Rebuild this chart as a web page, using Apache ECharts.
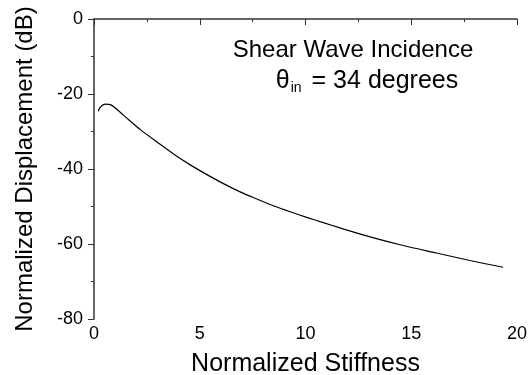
<!DOCTYPE html>
<html>
<head>
<meta charset="utf-8">
<script src="https://cdn.jsdelivr.net/npm/echarts@6/dist/echarts.min.js"></script>
<style>
  html, body { margin: 0; padding: 0; background: #fff; }
  #chart { width: 528px; height: 375px; }
</style>
</head>
<body>
<div id="chart"></div>
<script>
// values
var stiffness = [0.2, 0.3, 0.53, 0.8, 1.4, 2.19, 2.98, 3.76, 4.55, 5.34, 6.12, 6.91, 7.7, 8.48, 9.27, 10.06, 10.84, 11.63, 13.05, 14.62, 16.19, 17.77, 19.34];
var displacement = [-24.6, -23.5, -22.7, -22.9, -25.7, -29.5, -32.8, -36.0, -38.9, -41.5, -43.9, -46.1, -48.0, -49.8, -51.4, -52.9, -54.3, -55.7, -58.1, -60.4, -62.4, -64.4, -66.2];
var titleLine1 = 'Shear Wave Incidence';
var titleLine2 = ['θ', 'in', '= 34 degrees'];

var font = 'Liberation Sans, Arial, sans-serif';
var myChart = echarts.init(document.getElementById('chart'));

var points = stiffness.map(function(x, i) { return [x, displacement[i]]; });

var axisCommon = {
    axisLine: { show: true, lineStyle: { color: '#333', width: 1.5 } },
    axisTick: { show: true, inside: false, length: 6, lineStyle: { color: '#333', width: 1 } },
    minorTick: { show: true, splitNumber: 2, length: 3, lineStyle: { color: '#333', width: 1 } },
    splitLine: { show: false },
    axisLabel: { color: '#000', fontFamily: font, fontSize: 18 },
    nameTextStyle: { color: '#000', fontFamily: font, fontSize: 24 }
};

var option = {
    animation: false,
    backgroundColor: '#fff',
    grid: { left: 94, right: 11, top: 19, bottom: 56, outerBoundsMode: 'none' },
    xAxis: Object.assign({}, axisCommon, {
        type: 'value', min: 0, max: 20, interval: 5,
        name: 'Normalized Stiffness', nameLocation: 'middle', nameGap: 33,
        nameTextStyle: Object.assign({}, axisCommon.nameTextStyle, { fontSize: 25 }),
        axisLabel: Object.assign({}, axisCommon.axisLabel, { margin: 6 })
    }),
    yAxis: Object.assign({}, axisCommon, {
        type: 'value', min: -80, max: 0, interval: 20,
        name: 'Normalized Displacement (dB)', nameLocation: 'middle', nameGap: 57,
        axisLabel: Object.assign({}, axisCommon.axisLabel, { margin: 11 })
    }),
    graphic: [
        {
            type: 'text', x: 353, y: 50,
            style: {
                text: titleLine1, fill: '#000', font: '24px ' + font,
                align: 'center', verticalAlign: 'middle'
            }
        },
        {
            type: 'text', x: 367, y: 81,
            style: {
                text: '{t|' + titleLine2[0] + '}{s|' + titleLine2[1] + '}{t|' + titleLine2[2] + '}',
                align: 'center', verticalAlign: 'middle',
                rich: {
                    t: { fill: '#000', fontSize: 25, fontFamily: font },
                    s: { fill: '#000', fontSize: 14, fontFamily: font, padding: [15, 10, 0, 1] }
                }
            }
        }
    ],
    series: [{
        type: 'line',
        data: points,
        smooth: 0.3,
        showSymbol: false,
        lineStyle: { color: '#000', width: 1.2 }
    }]
};
myChart.setOption(option);
</script>
</body>
</html>
